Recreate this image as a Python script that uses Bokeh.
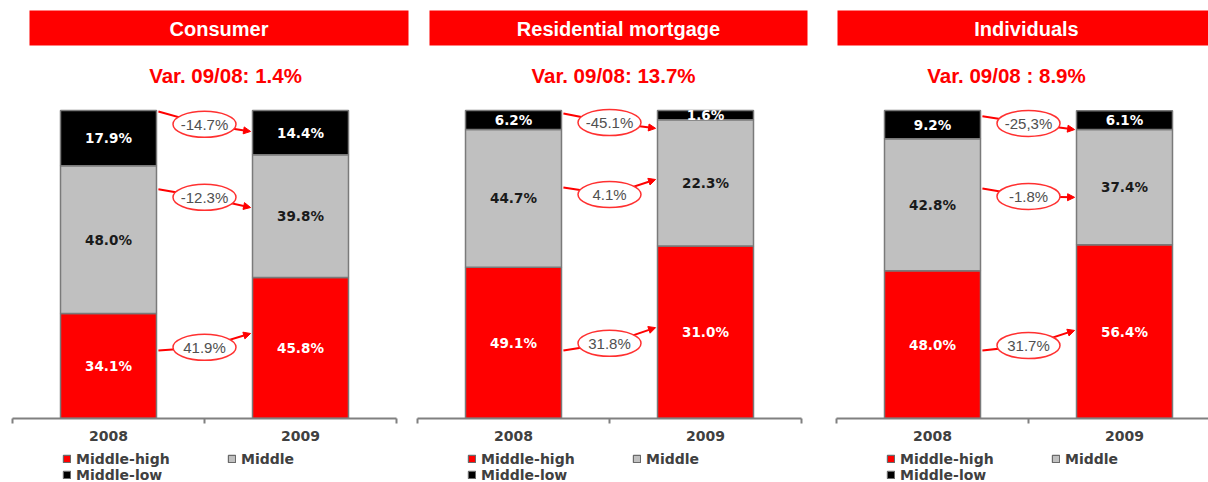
from bokeh.plotting import figure
from bokeh.models import (ColumnDataSource, Range1d, LinearAxis, FixedTicker, Legend,
                          LegendItem, Arrow, NormalHead)
from bokeh.layouts import row, column
from bokeh.core.properties import value
from bokeh.embed import file_html
from bokeh.resources import INLINE

# ---------------- data ----------------
categories = ["2008", "2009"]
segments = ["Middle-high", "Middle", "Middle-low"]
seg_colors = ["#FF0000", "#C0C0C0", "#000000"]
seg_text_colors = ["#FFFFFF", "#1A1A1A", "#FFFFFF"]

panel_titles = ["Consumer", "Residential mortgage", "Individuals"]
panel_variation = ["Var. 09/08: 1.4%", "Var. 09/08: 13.7%", "Var. 09/08 : 8.9%"]

consumer_high = [34.1, 45.8]
consumer_mid = [48.0, 39.8]
consumer_low = [17.9, 14.4]
consumer_var = ["41.9%", "-12.3%", "-14.7%"]          # high, mid, low

mortgage_high = [49.1, 56.0]                           # bar heights as drawn
mortgage_mid = [44.7, 41.0]
mortgage_low = [6.2, 3.0]
mortgage_high_label = [49.1, 31.0]                     # printed labels
mortgage_mid_label = [44.7, 22.3]
mortgage_low_label = [6.2, 1.6]
mortgage_var = ["31.8%", "4.1%", "-45.1%"]

individuals_high = [48.0, 56.4]
individuals_mid = [42.8, 37.4]
individuals_low = [9.2, 6.1]
individuals_var = ["31.7%", "-1.8%", "-25,3%"]

# ---------------- layout constants ----------------
PX_PER_PCT = 3.08
FRAME_H = 418
Y_TOP = FRAME_H / PX_PER_PCT
UNIT = 96.0  # px per x unit; categories at x = 1 and 3
AXIS_H = 30
LEG_H = 51

panels = [
    dict(title=panel_titles[0], sub=panel_variation[0],
         high=consumer_high, mid=consumer_mid, low=consumer_low,
         lab=[consumer_high, consumer_mid, consumer_low], var=consumer_var,
         fw=410, axis_px=12, bar=(29, 408), title_x=None, sub_x=225,
         call=[(22.1, 23.1, 27.6), (74.4, 71.8, 68.5), (99.7, 95.5, 93.2)]),
    dict(title=panel_titles[1], sub=panel_variation[1],
         high=mortgage_high, mid=mortgage_mid, low=mortgage_low,
         lab=[mortgage_high_label, mortgage_mid_label, mortgage_low_label], var=mortgage_var,
         fw=410, axis_px=7, bar=(19, 397), title_x=None, sub_x=203,
         call=[(22.1, 24.4, 29.5), (75.0, 72.7, 77.6), (99.0, 96.1, 94.2)]),
    dict(title=panel_titles[2], sub=panel_variation[2],
         high=individuals_high, mid=individuals_mid, low=individuals_low,
         lab=[individuals_high, individuals_mid, individuals_low], var=individuals_var,
         fw=388, axis_px=16, bar=(17, 388), title_x=206, sub_x=186,
         call=[(22.1, 23.7, 28.6), (74.7, 72.1, 71.8), (98.1, 95.8, 93.8)]),
]

FONT_T = value("Liberation Sans")
FONT_D = value("DejaVu Sans")


def legend_kwargs():
    return dict(orientation="horizontal", margin=0, padding=1, spacing=12,
                glyph_width=9, glyph_height=9, label_width=139, label_standoff=5,
                label_height=12, label_text_font="DejaVu Sans", label_text_font_style="bold",
                label_text_font_size="14px", label_text_color="#404040",
                border_line_color=None, background_fill_alpha=0)


def make_panel(cfg):
    ax0 = cfg["axis_px"]
    x_start = -ax0 / UNIT
    x_end = (cfg["fw"] - ax0) / UNIT
    p = figure(frame_width=cfg["fw"], frame_height=FRAME_H,
               x_range=Range1d(x_start, x_end), y_range=Range1d(0, Y_TOP),
               x_axis_location=None, y_axis_location=None,
               toolbar_location=None, output_backend="svg",
               min_border=0, min_border_bottom=AXIS_H, outline_line_color=None,
               background_fill_color="white", border_fill_color="white")
    p.xgrid.visible = False
    p.ygrid.visible = False

    # title bar (pixel positions relative to figure left edge)
    bl = (cfg["bar"][0] - ax0) / UNIT
    br = (cfg["bar"][1] - ax0) / UNIT
    top = Y_TOP - 10 / PX_PER_PCT
    bot = Y_TOP - 45 / PX_PER_PCT
    p.quad(left=[bl], right=[br], top=[top], bottom=[bot], fill_color="#FF0000", line_color=None)
    tx = (cfg["title_x"] - ax0) / UNIT if cfg["title_x"] is not None else (bl + br) / 2
    p.text(x=[tx], y=[Y_TOP - 28 / PX_PER_PCT], text=[cfg["title"]], text_font=FONT_T,
           text_font_style="bold", text_font_size="20px", text_color="white",
           text_align="center", text_baseline="middle")
    p.text(x=[(cfg["sub_x"] - ax0) / UNIT], y=[Y_TOP - 75 / PX_PER_PCT], text=[cfg["sub"]],
           text_font=FONT_T, text_font_style="bold", text_font_size="20.5px",
           text_color="#FF0000", text_align="center", text_baseline="middle")

    # stacked bars
    xs = [1, 3]
    src = ColumnDataSource(dict(x=xs, high=cfg["high"], mid=cfg["mid"], low=cfg["low"]))
    p.vbar_stack(["high", "mid", "low"], x="x", width=1.0, source=src,
                 fill_color=seg_colors, line_color="#7A7A7A", line_width=1.5)

    # segment labels
    lx, ly, lt, lc = [], [], [], []
    for i in range(2):
        base = 0.0
        for k, key in enumerate(["high", "mid", "low"]):
            h = cfg[key][i]
            lx.append(xs[i])
            ly.append(base + h / 2)
            lt.append("%.1f%%" % cfg["lab"][k][i])
            lc.append(seg_text_colors[k])
            base += h
    p.text(x=lx, y=ly, text=lt, text_color=lc, text_font=FONT_D, text_font_style="bold",
           text_font_size="13.5px", text_align="center", text_baseline="middle")

    # callouts (left bar edge -> ellipse -> arrow into right bar)
    for k, (y0, yc, y1) in enumerate(cfg["call"]):
        p.add_layout(Arrow(x_start=1.52, y_start=y0, x_end=2.0, y_end=yc, end=None,
                           line_color="#FF0000", line_width=2))
        p.add_layout(Arrow(x_start=2.0, y_start=yc, x_end=2.48, y_end=y1,
                           end=NormalHead(size=7, fill_color="#FF0000", line_color="#FF0000"),
                           line_color="#FF0000", line_width=2))
    ey = [c[1] for c in cfg["call"]]
    er = p.ellipse(x=[2.0] * 3, y=ey, width=63, height=26, width_units="screen",
                   height_units="screen", fill_color="white", line_color="#FF3030", line_width=1.5)
    er.level = "overlay"
    tr = p.text(x=[2.0] * 3, y=ey, text=cfg["var"], text_font=FONT_T, text_font_size="15px",
                text_color="#505050", text_align="center", text_baseline="middle")
    tr.level = "overlay"

    # x axis
    ax = LinearAxis(ticker=FixedTicker(ticks=[1, 3], minor_ticks=[0, 2, 4]),
                    major_label_overrides={1: categories[0], 3: categories[1]},
                    bounds=(0, 4))
    ax.axis_line_color = "#808080"
    ax.axis_line_width = 2
    ax.major_tick_line_color = None
    ax.major_tick_out = 0
    ax.major_tick_in = 0
    ax.minor_tick_line_color = "#808080"
    ax.minor_tick_line_width = 2
    ax.minor_tick_out = 5
    ax.minor_tick_in = 0
    ax.major_label_standoff = 7
    ax.major_label_text_font = "DejaVu Sans"
    ax.major_label_text_font_style = "bold"
    ax.major_label_text_font_size = "14px"
    ax.major_label_text_color = "#404040"
    p.add_layout(ax, "below")

    # legend strip: same series (renderers hidden), legend inside its frame
    lf = figure(frame_width=cfg["fw"], frame_height=LEG_H,
                x_range=Range1d(100, 101), y_range=Range1d(1000, 1001),
                x_axis_location=None, y_axis_location=None,
                toolbar_location=None, output_backend="svg",
                min_border=0, outline_line_color=None,
                background_fill_color="white", border_fill_color="white")
    lf.xgrid.visible = False
    lf.ygrid.visible = False
    lrs = lf.vbar_stack(["high", "mid", "low"], x="x", width=1.0, source=src,
                        fill_color=seg_colors, line_color="#6A6A6A", line_width=1.2)
    for r in lrs:
        r.visible = False
    leg1 = Legend(items=[LegendItem(label=segments[0], renderers=[lrs[0]]),
                         LegendItem(label=segments[1], renderers=[lrs[1]])],
                  location=(ax0 + 50, 32.5), **legend_kwargs())
    leg2 = Legend(items=[LegendItem(label=segments[2], renderers=[lrs[2]])],
                  location=(ax0 + 50, 16.5), **legend_kwargs())
    lf.add_layout(leg1)
    lf.add_layout(leg2)
    return column(p, lf)


cols = [make_panel(c) for c in panels]
layout = row(*cols)
open("out.html", "w").write(file_html(layout, INLINE))
